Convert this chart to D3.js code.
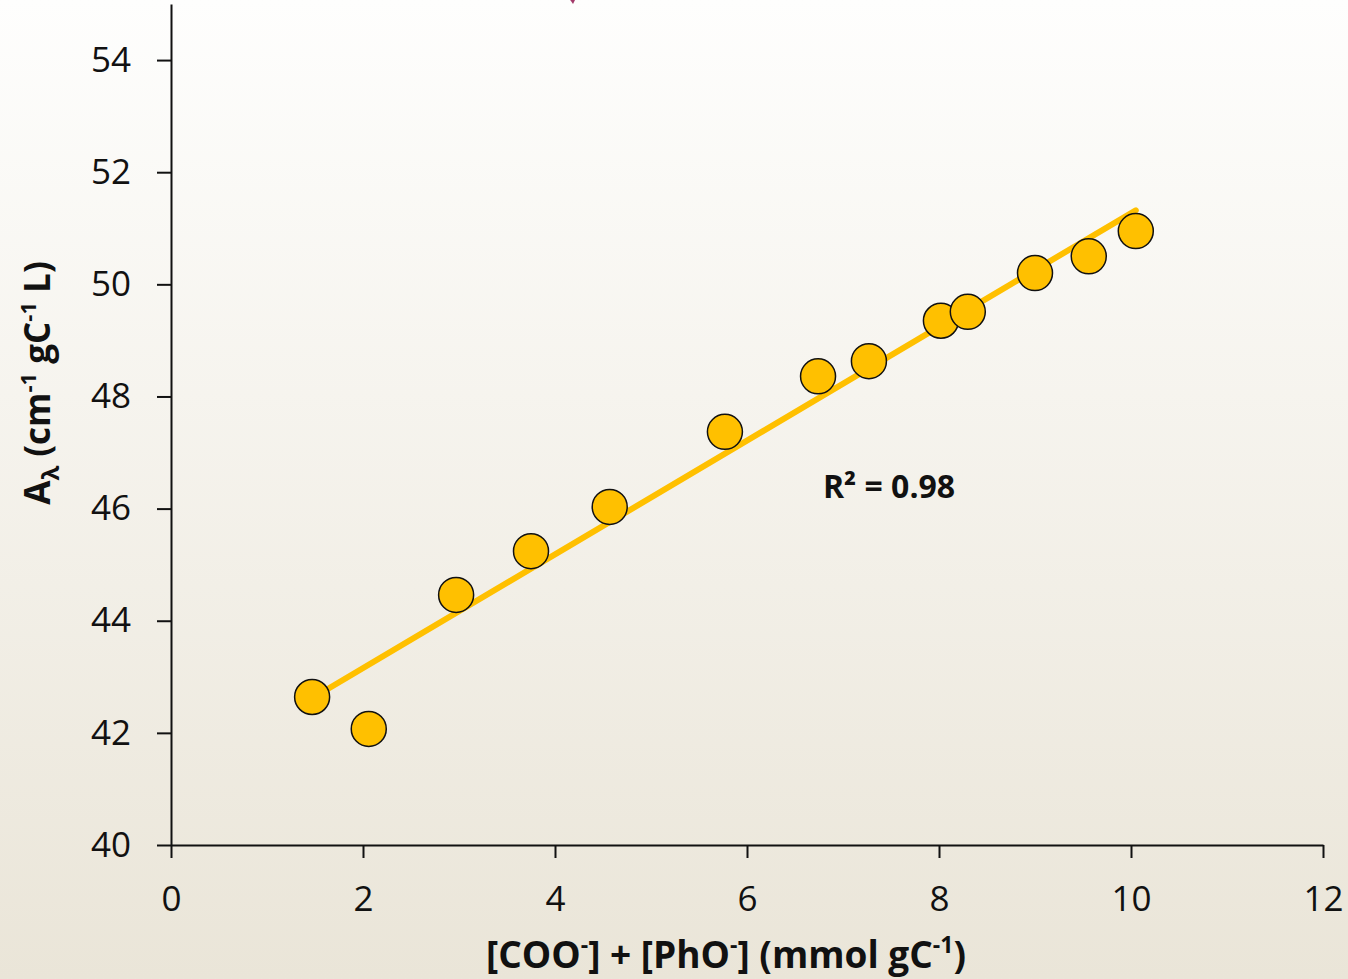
<!DOCTYPE html>
<html>
<head>
<meta charset="utf-8">
<script src="https://cdn.jsdelivr.net/npm/d3@7"></script>
<style>
  html, body { margin: 0; padding: 0; }
  body { width: 1348px; height: 979px; overflow: hidden; }
  text { font-family: "Open Sans", "Noto Sans", sans-serif; fill: #111; }
</style>
</head>
<body>
<div id="chart"></div>
<script>
// Absorbance vs. charged groups
const xValues = [1.47, 2.06, 2.97, 3.75, 4.57, 5.77, 6.74, 7.27, 8.02, 8.30, 9.00, 9.56, 10.05];
const yValues = [42.64, 42.07, 44.46, 45.24, 46.03, 47.37, 48.36, 48.63, 49.35, 49.51, 50.20, 50.50, 50.95];
const xTicks = [0, 2, 4, 6, 8, 10, 12];
const yTicks = [40, 42, 44, 46, 48, 50, 52, 54];
const r2Label = "R² = 0.98";

const width = 1348, height = 979;
const margin = { left: 171, right: 25, top: 4, bottom: 134 };

const svg = d3.select('#chart').append('svg')
    .attr('width', width)
    .attr('height', height);

// Background gradient, white at top to beige at the bottom
const grad = svg.append('defs').append('linearGradient')
    .attr('id', 'bg')
    .attr('x1', 0).attr('y1', 0).attr('x2', 0).attr('y2', 1);
grad.append('stop').attr('offset', '0%').attr('stop-color', '#fefefd');
grad.append('stop').attr('offset', '100%').attr('stop-color', '#eae5d8');
svg.append('rect')
    .attr('width', width)
    .attr('height', height)
    .attr('fill', 'url(#bg)');

// small clipped mark at the top edge
svg.append('path')
    .attr('d', 'M566,-6 L578,-6 L573,4 Z')
    .attr('fill', '#a33a6a');

const x = d3.scaleLinear().domain([0, 12]).range([margin.left, width - margin.right]);
const y = d3.scaleLinear().domain([40, 55]).range([height - margin.bottom, margin.top]);

// Axes
const xAxis = svg.append('g')
    .attr('transform', `translate(0,${y(40)})`)
    .call(d3.axisBottom(x).tickValues(xTicks).tickSize(13).tickSizeOuter(0).tickPadding(20));
const yAxis = svg.append('g')
    .attr('transform', `translate(${x(0)},0)`)
    .call(d3.axisLeft(y).tickValues(yTicks).tickSize(14).tickSizeOuter(0).tickPadding(26));

[xAxis, yAxis].forEach(g => {
    g.select('.domain').attr('stroke', '#111').attr('stroke-width', 2);
    g.selectAll('.tick line').attr('stroke', '#111').attr('stroke-width', 2);
    g.selectAll('.tick text')
        .attr('font-size', '35px')
        .attr('font-family', '"Open Sans", sans-serif')
        .attr('fill', '#111');
});
xAxis.selectAll('.tick text').attr('dy', '0.95em');

// Trendline (least squares)
const mx = d3.mean(xValues), my = d3.mean(yValues);
let sxy = 0, sxx = 0;
xValues.forEach((v, i) => { sxy += (v - mx) * (yValues[i] - my); sxx += (v - mx) * (v - mx); });
const slope = sxy / sxx;
const intercept = my - slope * mx;
const x0 = d3.min(xValues), x1 = d3.max(xValues);

svg.append('line')
    .attr('x1', x(x0)).attr('y1', y(intercept + slope * x0))
    .attr('x2', x(x1)).attr('y2', y(intercept + slope * x1))
    .attr('stroke', '#ffc000')
    .attr('stroke-width', 6)
    .attr('stroke-linecap', 'round');

// Points
svg.append('g').selectAll('circle')
    .data(xValues.map((v, i) => ({ x: v, y: yValues[i] })))
    .join('circle')
    .attr('cx', d => x(d.x))
    .attr('cy', d => y(d.y))
    .attr('r', 17.5)
    .attr('fill', '#ffc000')
    .attr('stroke', '#111')
    .attr('stroke-width', 1.5);

// R² label
svg.append('text')
    .attr('x', 889).attr('y', 498)
    .attr('text-anchor', 'middle')
    .attr('font-size', '32px')
    .attr('font-weight', 'bold')
    .text(r2Label);

// X axis title
const xt = svg.append('text')
    .attr('x', 726).attr('y', 968)
    .attr('text-anchor', 'middle')
    .attr('font-size', '37px')
    .attr('font-weight', 'bold');
xt.append('tspan').text('[COO');
xt.append('tspan').attr('dy', -15).attr('font-size', '23px').text('-');
xt.append('tspan').attr('dy', 15).text('] + [PhO');
xt.append('tspan').attr('dy', -15).attr('font-size', '23px').text('-');
xt.append('tspan').attr('dy', 15).text('] (mmol gC');
xt.append('tspan').attr('dy', -15).attr('font-size', '23px').text('-1');
xt.append('tspan').attr('dy', 15).text(')');

// Y axis title
const yt = svg.append('text')
    .attr('transform', 'translate(50,383) rotate(-90)')
    .attr('text-anchor', 'middle')
    .attr('font-size', '35px')
    .attr('font-weight', 'bold');
yt.append('tspan').text('A');
yt.append('tspan').attr('dy', 9).attr('font-size', '24px').text('λ');
yt.append('tspan').attr('dy', -9).text(' (cm');
yt.append('tspan').attr('dy', -14).attr('font-size', '22px').text('-1');
yt.append('tspan').attr('dy', 14).text(' gC');
yt.append('tspan').attr('dy', -14).attr('font-size', '22px').text('-1');
yt.append('tspan').attr('dy', 14).text(' L)');
</script>
</body>
</html>
